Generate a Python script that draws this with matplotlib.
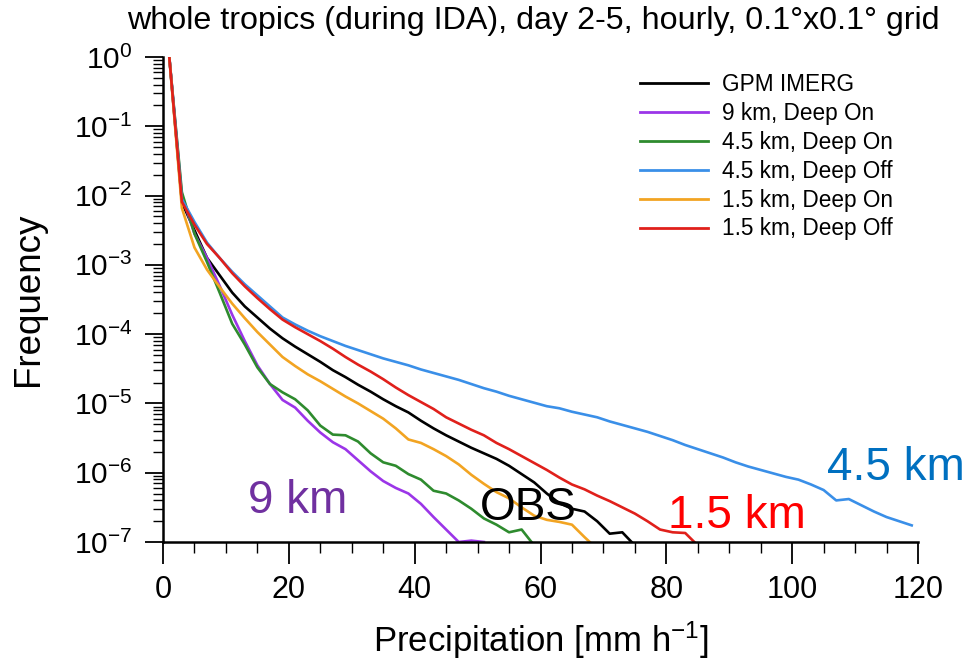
import numpy as np
import matplotlib
matplotlib.use("Agg")
import matplotlib.pyplot as plt
from matplotlib.ticker import LogLocator, MultipleLocator, NullFormatter

plt.rcParams['font.family'] = ['Liberation Sans', 'DejaVu Sans']
plt.rcParams['mathtext.fontset'] = 'custom'
plt.rcParams['mathtext.rm'] = 'Liberation Sans'
plt.rcParams['mathtext.it'] = 'Liberation Sans:italic'
plt.rcParams['mathtext.bf'] = 'Liberation Sans:bold'

# ---------------- data (log10 of frequency, 2 mm/h bins centred on odd values) -------------
labels = ["GPM IMERG", "9 km, Deep On", "4.5 km, Deep On", "4.5 km, Deep Off",
          "1.5 km, Deep On", "1.5 km, Deep Off"]
colors = ["#000000", "#9B35E8", "#2E8B2E", "#3A8FE8", "#F2A422", "#E0201B"]

obs_log = [0, -2.10, -2.50, -2.90, -3.15, -3.40, -3.60, -3.76, -3.92, -4.06, -4.18,
           -4.29, -4.40, -4.52, -4.62, -4.73, -4.83, -4.94, -5.04, -5.13, -5.25,
           -5.36, -5.46, -5.55, -5.64, -5.72, -5.80, -5.90, -6.02, -6.14, -6.30,
           -6.44, -6.52, -6.56, -6.70, -6.88, -6.86, -7.05]
km9_on_log = [0, -2.00, -2.55, -2.90, -3.30, -3.72, -4.10, -4.45, -4.72, -4.95, -5.06,
              -5.25, -5.42, -5.56, -5.66, -5.82, -5.98, -6.12, -6.22, -6.30, -6.45,
              -6.64, -6.82, -7.00, -6.98, -7.00]
km45_on_log = [0, -1.95, -2.55, -2.96, -3.40, -3.85, -4.15, -4.48, -4.72, -4.84, -4.94,
               -5.10, -5.32, -5.45, -5.46, -5.55, -5.72, -5.85, -5.90, -6.02, -6.10,
               -6.26, -6.30, -6.40, -6.52, -6.66, -6.75, -6.86, -6.82, -7.05]
km45_off_log = [0, -2.05, -2.38, -2.68, -2.90, -3.10, -3.28, -3.44, -3.60, -3.76, -3.86,
                -3.95, -4.03, -4.10, -4.17, -4.23, -4.29, -4.35, -4.40, -4.45, -4.51,
                -4.56, -4.61, -4.66, -4.72, -4.78, -4.83, -4.89, -4.94, -4.99, -5.04,
                -5.07, -5.12, -5.16, -5.20, -5.26, -5.31, -5.36, -5.41, -5.47, -5.53,
                -5.60, -5.66, -5.72, -5.78, -5.85, -5.91, -5.96, -6.01, -6.06, -6.10,
                -6.17, -6.25, -6.40, -6.38, -6.47, -6.56, -6.64, -6.70, -6.76]
km15_on_log = [0, -2.18, -2.75, -3.07, -3.32, -3.56, -3.77, -3.97, -4.15, -4.33, -4.46,
               -4.58, -4.68, -4.79, -4.90, -5.00, -5.11, -5.22, -5.36, -5.52, -5.57,
               -5.66, -5.76, -5.88, -6.03, -6.16, -6.28, -6.37, -6.50, -6.62, -6.68,
               -6.71, -6.75, -6.93, -7.10]
km15_off_log = [0, -2.09, -2.42, -2.70, -2.90, -3.12, -3.31, -3.48, -3.64, -3.79, -3.90,
                -4.00, -4.10, -4.21, -4.33, -4.44, -4.54, -4.65, -4.77, -4.88, -4.98,
                -5.08, -5.20, -5.29, -5.38, -5.46, -5.57, -5.66, -5.76, -5.86, -5.96,
                -6.07, -6.17, -6.24, -6.33, -6.41, -6.50, -6.59, -6.70, -6.82, -6.86,
                -6.87, -7.05]

series = [obs_log, km9_on_log, km45_on_log, km45_off_log, km15_on_log, km15_off_log]

# ---------------- figure ----------------
W, H = 974, 669
fig = plt.figure(figsize=(W / 100, H / 100), dpi=100)
ax_l, ax_r, ax_t, ax_b = 163, 918, 57, 542
ax = fig.add_axes([ax_l / W, 1 - ax_b / H, (ax_r - ax_l) / W, (ax_b - ax_t) / H])

for vals, col, lab in zip(series, colors, labels):
    v = np.array(vals, dtype=float)
    x = 1 + 2 * np.arange(len(v))
    ax.plot(x, 10.0 ** v, color=col, lw=1.9, label=lab, solid_joinstyle='round')

ax.set_yscale('log')
ax.set_xlim(0, 120)
ax.set_ylim(1e-7, 1)
ax.yaxis.set_major_locator(LogLocator(base=10, numticks=20))
ax.yaxis.set_minor_locator(LogLocator(base=10, subs=np.arange(2, 10), numticks=20))
ax.yaxis.set_minor_formatter(NullFormatter())
ax.xaxis.set_major_locator(MultipleLocator(20))
ax.xaxis.set_minor_locator(MultipleLocator(5))

for s in ['top', 'right']:
    ax.spines[s].set_visible(False)
for s in ['left', 'bottom']:
    ax.spines[s].set_linewidth(1.8)

ax.tick_params(axis='both', which='major', direction='out', width=1.3, labelsize=21.5)
ax.tick_params(axis='y', which='major', length=13, pad=9)
ax.tick_params(axis='y', which='minor', length=7, width=1.0)
ax.tick_params(axis='x', which='major', length=16, pad=8, labelsize=22)
ax.tick_params(axis='x', which='minor', length=8, width=1.0)

ax.set_ylabel('Frequency', fontsize=26.5)
ax.yaxis.set_label_coords(-0.155, 0.5)
ax.set_xlabel('Precipitation [mm h$^{-1}$]', fontsize=25, labelpad=10)

fig.text(0.548, 1 - 21 / H, 'whole tropics (during IDA), day 2-5, hourly, 0.1°x0.1° grid',
         ha='center', va='center', fontsize=23.2)

leg = ax.legend(loc='upper left', bbox_to_anchor=(0.632, 0.967), frameon=False,
                fontsize=16.3, handlelength=3.0, handletextpad=0.6, labelspacing=0.26,
                borderaxespad=0, borderpad=0)
for h in leg.get_lines():
    h.set_linewidth(2.0)

ax.text(13.5, 10 ** -6.58, '9 km', color='#7030A0', fontsize=33, ha='left', va='baseline')
ax.text(50.4, 10 ** -6.68, 'OBS', color='black', fontsize=33, ha='left', va='baseline')
ax.text(80.3, 10 ** -6.80, '1.5 km', color='#FF0000', fontsize=33, ha='left', va='baseline')
ax.text(105.5, 10 ** -6.10, '4.5 km', color='#0070C0', fontsize=33, ha='left', va='baseline')

fig.savefig('out.png', dpi=100)
